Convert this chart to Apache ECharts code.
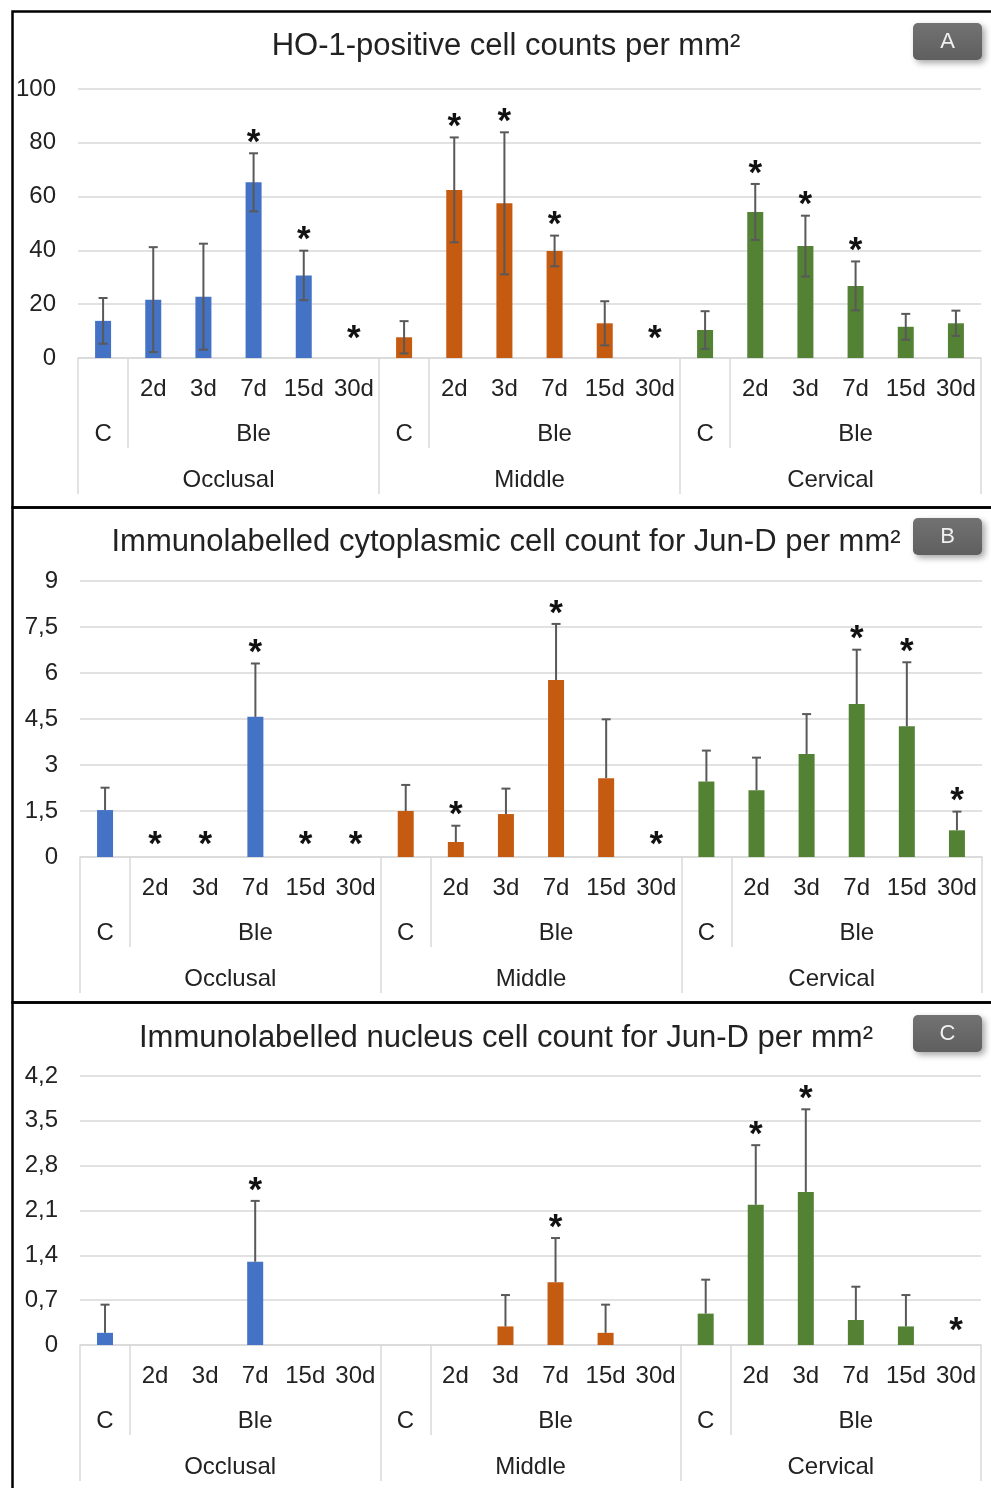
<!DOCTYPE html>
<html>
<head>
<meta charset="utf-8">
<title>HO-1 / Jun-D cell counts</title>
<script src="https://cdn.jsdelivr.net/npm/echarts@6/dist/echarts.min.js"></script>
<style>
  html, body { margin: 0; padding: 0; background: #fff; }
  #chart { width: 991px; height: 1488px; }
</style>
</head>
<body>
<div id="chart"></div>
<script>
'use strict';

// categories
var regions = ['Occlusal', 'Middle', 'Cervical'];
var days = ['C', '2d', '3d', '7d', '15d', '30d'];
var subGroups = ['C', 'Ble'];

// A: HO-1 (mean, sd, significance flag)
var hoMean = [13.8, 21.7, 22.8, 65.3, 30.7, 0, 7.7, 62.5, 57.5, 39.8, 12.9, 0, 10.4, 54.3, 41.6, 26.8, 11.6, 12.9];
var hoSd = [8.5, 19.5, 19.7, 10.8, 9.2, 0, 6.0, 19.5, 26.4, 5.7, 8.2, 0, 7.0, 10.4, 11.3, 9.1, 4.8, 4.7];
var hoSig = [0, 0, 0, 1, 1, 1, 0, 1, 1, 1, 0, 1, 0, 1, 1, 1, 0, 0];

// B: cytoplasmic Jun-D
var cytoMean = [1.53, 0, 0, 4.57, 0, 0, 1.5, 0.49, 1.4, 5.77, 2.57, 0, 2.46, 2.18, 3.36, 4.99, 4.26, 0.87];
var cytoSd = [0.73, 0, 0, 1.74, 0, 0, 0.85, 0.53, 0.83, 1.83, 1.92, 0, 1.01, 1.06, 1.3, 1.77, 2.09, 0.61];
var cytoSig = [0, 1, 1, 1, 1, 1, 0, 1, 0, 1, 0, 1, 0, 0, 0, 1, 1, 1];

// C: nucleus Jun-D
var nucMean = [0.19, 0, 0, 1.3, 0, 0, 0, 0, 0.29, 0.98, 0.19, 0, 0.49, 2.19, 2.39, 0.39, 0.29, 0];
var nucSd = [0.44, 0, 0, 0.95, 0, 0, 0, 0, 0.49, 0.69, 0.44, 0, 0.53, 0.93, 1.29, 0.52, 0.49, 0];
var nucSig = [0, 0, 0, 1, 0, 0, 0, 0, 0, 1, 0, 0, 0, 1, 1, 0, 0, 1];

// y tick labels
var hoTicks = [0, 20, 40, 60, 80, 100];
var cytoTicks = [0, 1.5, 3, 4.5, 6, 7.5, 9];
var nucTicks = [0, 0.7, 1.4, 2.1, 2.8, 3.5, 4.2];

var titles = [
  'HO-1-positive cell counts per mm²',
  'Immunolabelled cytoplasmic cell count for Jun-D per mm²',
  'Immunolabelled nucleus cell count for Jun-D per mm²'
];
var panelTags = ['A', 'B', 'C'];

var colors = ['#4472C4', '#C55A11', '#548235'];
var FONT = '"Liberation Sans", Arial, sans-serif';
var TEXT = '#222';
var LINE = '#d9d9d9';

// panel layout (pixels)
var panels = [
  { top: 9, h: 496, gridLeft: 78, gridTop: 89, gridW: 903, gridH: 269, titleY: 26, tagY: 23,
    mean: hoMean, sd: hoSd, sig: hoSig, ticks: hoTicks, both: true, zeroGap: 25 },
  { top: 505, h: 495, gridLeft: 80, gridTop: 581, gridW: 902, gridH: 276, titleY: 522, tagY: 518,
    mean: cytoMean, sd: cytoSd, sig: cytoSig, ticks: cytoTicks, both: false, zeroGap: 18 },
  { top: 1000, h: 600, gridLeft: 80, gridTop: 1076, gridW: 901, gridH: 269, titleY: 1018, tagY: 1015,
    mean: nucMean, sd: nucSd, sig: nucSig, ticks: nucTicks, both: false, zeroGap: 20 }
];

// 18 bars: region x day
var cats = [];
regions.forEach(function (r) {
  days.forEach(function (d) { cats.push(r + '|' + d); });
});

// half-category slots (0..36) for the C/Ble and region rows
var halfSlots = [];
var subLabels = [];
var regionLabels = [];
var subTicks = [];
var regionTicks = [];
for (var i = 0; i <= cats.length * 2; i++) {
  halfSlots.push('s' + i);
  subLabels.push('');
  regionLabels.push('');
}
regions.forEach(function (r, k) {
  var base = k * days.length * 2;
  subLabels[base + 1] = subGroups[0];
  subLabels[base + 2 + (days.length - 1)] = subGroups[1];
  regionLabels[base + days.length] = r;
  subTicks.push(base + 2);
  regionTicks.push(base);
});
regionTicks.push(cats.length * 2);

function fmtComma(v) {
  return String(Math.round(v * 10) / 10).replace('.', ',');
}

function errorRenderer(both, zeroGap) {
  return function (params, api) {
    var idx = api.value(0);
    var mean = api.value(1);
    var sd = api.value(2);
    var sig = api.value(3);
    var top = api.coord([idx, mean + sd]);
    var children = [];
    var st = { stroke: '#595959', lineWidth: 2 };
    if (sd > 0) {
      var low = api.coord([idx, both ? mean - sd : mean]);
      children.push({ type: 'line', shape: { x1: top[0], y1: top[1], x2: low[0], y2: low[1] }, style: st });
      children.push({ type: 'line', shape: { x1: top[0] - 4.5, y1: top[1], x2: top[0] + 4.5, y2: top[1] }, style: st });
      if (both) {
        children.push({ type: 'line', shape: { x1: low[0] - 4.5, y1: low[1], x2: low[0] + 4.5, y2: low[1] }, style: st });
      }
    }
    if (sig) {
      var y = sd > 0 ? top[1] - 16 : top[1] - zeroGap;
      children.push({
        type: 'text', x: top[0], y: y + 6,
        style: { text: '*', fontSize: 35, fontWeight: 'bold', fontFamily: FONT, fill: '#111', align: 'center', verticalAlign: 'middle' }
      });
    }
    return { type: 'group', children: children };
  };
}

var grid = [], xAxis = [], yAxis = [], series = [], title = [], graphic = [];

panels.forEach(function (p, k) {
  grid.push({ left: p.gridLeft, top: p.gridTop, width: p.gridW, height: p.gridH, containLabel: false, outerBoundsMode: 'none' });

  title.push({
    text: titles[k], left: 501, textAlign: 'center', top: p.titleY,
    textStyle: { fontFamily: FONT, fontSize: 31, fontWeight: 'normal', color: TEXT }
  });

  // days row
  xAxis.push({
    type: 'category', gridIndex: k, data: cats, position: 'bottom', offset: 0,
    axisLine: { onZero: false, lineStyle: { color: LINE, width: 1.5 } },
    axisTick: { show: false },
    axisLabel: {
      interval: 0, margin: 19, fontFamily: FONT, fontSize: 24, color: TEXT,
      formatter: function (v, i) { var d = days[i % days.length]; return d === 'C' ? '' : d; }
    }
  });
  // C / Ble row
  xAxis.push({
    type: 'category', gridIndex: k, data: halfSlots, boundaryGap: false, position: 'bottom', offset: 0,
    axisLine: { show: false, onZero: false },
    axisTick: { show: true, length: 90, interval: function (i) { return subTicks.indexOf(i) >= 0; }, lineStyle: { color: LINE, width: 1.5 } },
    axisLabel: { interval: 0, margin: 64, fontFamily: FONT, fontSize: 24, color: TEXT, formatter: function (v, i) { return subLabels[i]; } },
    splitLine: { show: false }
  });
  // region row
  xAxis.push({
    type: 'category', gridIndex: k, data: halfSlots, boundaryGap: false, position: 'bottom', offset: 0,
    axisLine: { show: false, onZero: false },
    axisTick: { show: true, length: 136, interval: function (i) { return regionTicks.indexOf(i) >= 0; }, lineStyle: { color: LINE, width: 1.5 } },
    axisLabel: { interval: 0, margin: 110, fontFamily: FONT, fontSize: 24, color: TEXT, formatter: function (v, i) { return regionLabels[i]; } },
    splitLine: { show: false }
  });

  yAxis.push({
    type: 'value', gridIndex: k,
    min: p.ticks[0], max: p.ticks[p.ticks.length - 1], interval: p.ticks[1] - p.ticks[0],
    axisLine: { show: false }, axisTick: { show: false },
    splitLine: { lineStyle: { color: LINE, width: 1.5 } },
    axisLabel: { margin: 22, fontFamily: FONT, fontSize: 24, color: TEXT, formatter: fmtComma }
  });

  series.push({
    type: 'bar', xAxisIndex: k * 3, yAxisIndex: k, barWidth: 16,
    data: p.mean,
    itemStyle: { color: function (d) { return colors[Math.floor(d.dataIndex / days.length)]; } },
    silent: true
  });

  series.push({
    type: 'custom', xAxisIndex: k * 3, yAxisIndex: k, z: 5, silent: true,
    renderItem: errorRenderer(p.both, p.zeroGap),
    data: p.mean.map(function (m, i) { return [i, m, p.sd[i], p.sig[i]]; })
  });

  // panel frame
  graphic.push({
    type: 'rect', left: 10, top: p.top, silent: true,
    shape: { x: 0, y: 0, width: 1000, height: p.h },
    style: { fill: 'none', stroke: '#000', lineWidth: 2.5 }
  });
  // panel tag
  graphic.push({
    type: 'group', left: 913, top: p.tagY, silent: true,
    children: [{
      type: 'rect', shape: { x: 0, y: 0, width: 69, height: 37, r: 5 },
      style: {
        fill: new echarts.graphic.LinearGradient(0, 0, 0, 1, [{ offset: 0, color: '#727272' }, { offset: 1, color: '#5f5f5f' }]),
        shadowBlur: 6, shadowOffsetX: 3, shadowOffsetY: 3, shadowColor: 'rgba(0,0,0,0.35)'
      }
    }, {
      type: 'text', x: 34.5, y: 18.5,
      style: { text: panelTags[k], fontFamily: FONT, fontSize: 22, fill: '#f0f0f0', align: 'center', verticalAlign: 'middle' }
    }]
  });
});

var myChart = echarts.init(document.getElementById('chart'), null, { renderer: 'canvas' });
myChart.setOption({
  animation: false,
  backgroundColor: '#fff',
  title: title,
  grid: grid,
  xAxis: xAxis,
  yAxis: yAxis,
  series: series,
  graphic: graphic
});
</script>
</body>
</html>
